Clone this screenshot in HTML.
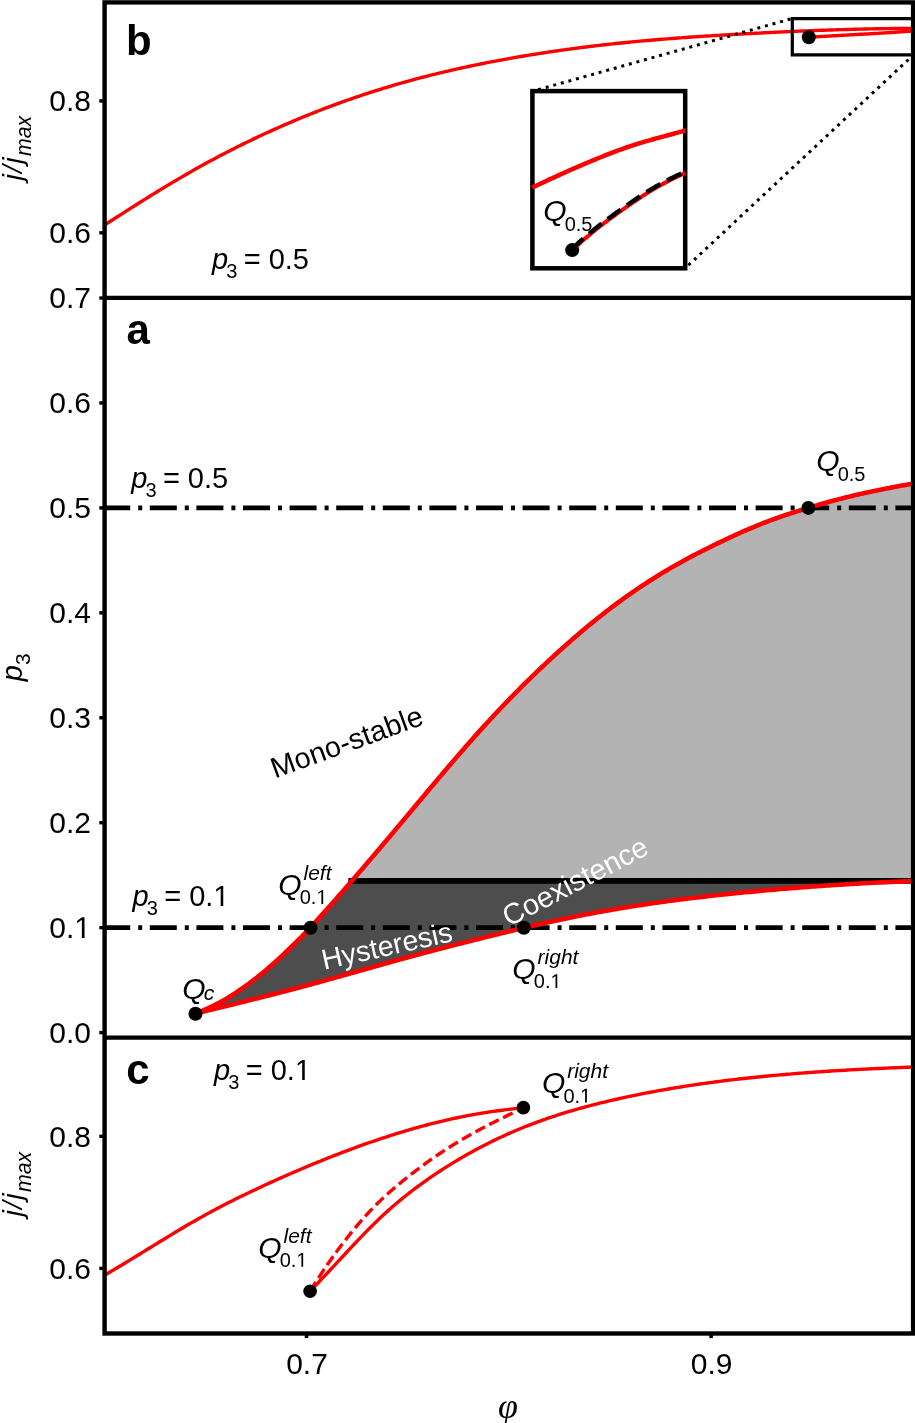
<!DOCTYPE html><html><head><meta charset="utf-8"><style>html,body{margin:0;padding:0;background:#fff;width:915px;height:1423px;overflow:hidden;position:relative}</style></head><body><svg width="915" height="1423" viewBox="0 0 915 1423" style="position:absolute;left:0;top:0;will-change:transform">
<defs><path id="one" d="M515,0 L515,1237 L197,1010 L197,1180 L530,1409 L696,1409 L696,0 Z"/></defs>
<rect x="0" y="0" width="915" height="1423" fill="#fff"/>
<polygon points="351.85,880.9 351.87,880.87 353.67,878.8 355.47,876.72 357.26,874.64 359.06,872.56 360.86,870.47 362.66,868.38 364.46,866.29 366.26,864.19 368.06,862.09 369.85,859.99 371.65,857.88 373.45,855.77 375.25,853.66 377.05,851.54 378.85,849.43 380.65,847.3 382.44,845.18 384.24,843.05 386.04,840.92 387.84,838.79 389.64,836.65 391.44,834.51 393.23,832.37 395.03,830.23 396.83,828.09 398.63,825.94 400.43,823.8 402.23,821.65 404.03,819.5 405.82,817.35 407.62,815.2 409.42,813.05 411.22,810.9 413.02,808.75 414.82,806.6 416.62,804.46 418.41,802.31 420.21,800.16 422.01,798.01 423.81,795.87 425.61,793.72 427.41,791.58 429.2,789.44 431,787.3 432.8,785.16 434.6,783.03 436.4,780.9 438.2,778.77 440,776.64 441.79,774.52 443.59,772.4 445.39,770.29 447.19,768.18 448.99,766.07 450.79,763.97 452.58,761.87 454.38,759.78 456.18,757.69 457.98,755.61 459.78,753.53 461.58,751.46 463.38,749.39 465.17,747.34 466.97,745.28 468.77,743.24 470.57,741.2 472.37,739.17 474.17,737.15 475.97,735.13 477.76,733.12 479.56,731.12 481.36,729.13 483.16,727.15 484.96,725.17 486.76,723.21 488.55,721.25 490.35,719.3 492.15,717.36 493.95,715.43 495.75,713.51 497.55,711.59 499.35,709.69 501.14,707.79 502.94,705.9 504.74,704.02 506.54,702.15 508.34,700.28 510.14,698.43 511.94,696.58 513.73,694.74 515.53,692.92 517.33,691.09 519.13,689.28 520.93,687.48 522.73,685.69 524.52,683.9 526.32,682.12 528.12,680.35 529.92,678.59 531.72,676.84 533.52,675.1 535.32,673.37 537.11,671.64 538.91,669.92 540.71,668.21 542.51,666.51 544.31,664.81 546.11,663.13 547.91,661.45 549.7,659.78 551.5,658.12 553.3,656.47 555.1,654.82 556.9,653.18 558.7,651.55 560.49,649.93 562.29,648.31 564.09,646.71 565.89,645.11 567.69,643.52 569.49,641.93 571.29,640.36 573.08,638.79 574.88,637.24 576.68,635.69 578.48,634.15 580.28,632.61 582.08,631.09 583.88,629.58 585.67,628.07 587.47,626.58 589.27,625.09 591.07,623.61 592.87,622.14 594.67,620.69 596.46,619.24 598.26,617.8 600.06,616.37 601.86,614.95 603.66,613.54 605.46,612.15 607.26,610.76 609.05,609.38 610.85,608.01 612.65,606.65 614.45,605.3 616.25,603.96 618.05,602.64 619.85,601.32 621.64,600.01 623.44,598.71 625.24,597.42 627.04,596.14 628.84,594.87 630.64,593.61 632.43,592.36 634.23,591.12 636.03,589.89 637.83,588.67 639.63,587.45 641.43,586.25 643.23,585.06 645.02,583.88 646.82,582.71 648.62,581.54 650.42,580.39 652.22,579.24 654.02,578.11 655.82,576.98 657.61,575.87 659.41,574.76 661.21,573.66 663.01,572.57 664.81,571.49 666.61,570.42 668.4,569.36 670.2,568.31 672,567.27 673.8,566.23 675.6,565.21 677.4,564.19 679.2,563.18 680.99,562.18 682.79,561.19 684.59,560.21 686.39,559.23 688.19,558.26 689.99,557.31 691.78,556.35 693.58,555.41 695.38,554.47 697.18,553.54 698.98,552.62 700.78,551.7 702.58,550.79 704.37,549.88 706.17,548.98 707.97,548.08 709.77,547.19 711.57,546.31 713.37,545.43 715.17,544.55 716.96,543.68 718.76,542.81 720.56,541.94 722.36,541.08 724.16,540.23 725.96,539.37 727.75,538.53 729.55,537.68 731.35,536.84 733.15,536.01 734.95,535.18 736.75,534.36 738.55,533.55 740.34,532.74 742.14,531.93 743.94,531.14 745.74,530.35 747.54,529.57 749.34,528.8 751.14,528.03 752.93,527.27 754.73,526.53 756.53,525.79 758.33,525.06 760.13,524.34 761.93,523.62 763.72,522.92 765.52,522.23 767.32,521.55 769.12,520.87 770.92,520.21 772.72,519.55 774.52,518.9 776.31,518.25 778.11,517.62 779.91,516.99 781.71,516.37 783.51,515.76 785.31,515.15 787.11,514.55 788.9,513.96 790.7,513.37 792.5,512.79 794.3,512.21 796.1,511.64 797.9,511.07 799.69,510.51 801.49,509.95 803.29,509.4 805.09,508.85 806.89,508.3 808.69,507.76 810.49,507.22 812.28,506.69 814.08,506.16 815.88,505.63 817.68,505.1 819.48,504.58 821.28,504.07 823.08,503.56 824.87,503.05 826.67,502.54 828.47,502.05 830.27,501.55 832.07,501.06 833.87,500.57 835.66,500.09 837.46,499.62 839.26,499.14 841.06,498.68 842.86,498.22 844.66,497.76 846.46,497.31 848.25,496.86 850.05,496.42 851.85,495.98 853.65,495.55 855.45,495.13 857.25,494.71 859.05,494.29 860.84,493.88 862.64,493.48 864.44,493.08 866.24,492.68 868.04,492.29 869.84,491.9 871.63,491.52 873.43,491.14 875.23,490.76 877.03,490.39 878.83,490.02 880.63,489.66 882.43,489.3 884.22,488.94 886.02,488.59 887.82,488.23 889.62,487.89 891.42,487.54 893.22,487.2 895.02,486.86 896.81,486.53 898.61,486.2 900.41,485.86 902.21,485.54 904.01,485.21 905.81,484.89 907.6,484.56 909.4,484.24 911.2,483.92 913,483.6 913.1,483.6 913.1,880.9" fill="#b3b3b3"/>
<polygon points="195.4,1013.52 197.2,1012.79 199,1012.06 200.8,1011.33 202.59,1010.58 204.39,1009.82 206.19,1009.04 207.99,1008.24 209.79,1007.42 211.59,1006.58 213.38,1005.72 215.18,1004.83 216.98,1003.92 218.78,1002.99 220.58,1002.03 222.38,1001.04 224.18,1000.03 225.97,998.99 227.77,997.92 229.57,996.83 231.37,995.71 233.17,994.56 234.97,993.39 236.77,992.19 238.56,990.97 240.36,989.72 242.16,988.46 243.96,987.18 245.76,985.88 247.56,984.57 249.35,983.23 251.15,981.89 252.95,980.52 254.75,979.14 256.55,977.73 258.35,976.31 260.15,974.87 261.94,973.41 263.74,971.92 265.54,970.42 267.34,968.9 269.14,967.36 270.94,965.8 272.74,964.23 274.53,962.63 276.33,961.02 278.13,959.38 279.93,957.74 281.73,956.07 283.53,954.39 285.32,952.69 287.12,950.98 288.92,949.26 290.72,947.52 292.52,945.77 294.32,944.01 296.12,942.23 297.91,940.44 299.71,938.63 301.51,936.81 303.31,934.97 305.11,933.12 306.91,931.24 308.71,929.35 310.5,927.44 312.3,925.52 314.1,923.57 315.9,921.61 317.7,919.64 319.5,917.65 321.29,915.65 323.09,913.64 324.89,911.62 326.69,909.6 328.49,907.57 330.29,905.53 332.09,903.49 333.88,901.45 335.68,899.41 337.48,897.36 339.28,895.31 341.08,893.26 342.88,891.2 344.68,889.14 346.47,887.08 348.27,885.01 350.07,882.94 351.85,880.9 913.1,880.9 913,881 910.6,881.09 908.2,881.19 905.8,881.29 903.4,881.39 901,881.49 898.6,881.6 896.2,881.7 893.8,881.8 891.4,881.91 889,882.01 886.6,882.12 884.2,882.23 881.8,882.34 879.4,882.46 877,882.57 874.6,882.69 872.2,882.82 869.8,882.94 867.4,883.06 865,883.19 862.6,883.32 860.2,883.46 857.8,883.59 855.4,883.73 853,883.87 850.6,884.01 848.2,884.15 845.8,884.3 843.4,884.45 841,884.6 838.6,884.75 836.2,884.9 833.8,885.06 831.4,885.22 829,885.38 826.6,885.54 824.2,885.71 821.8,885.87 819.4,886.04 817,886.21 814.6,886.39 812.2,886.56 809.8,886.74 807.4,886.92 805,887.1 802.6,887.28 800.2,887.47 797.8,887.66 795.4,887.85 793,888.04 790.6,888.23 788.2,888.43 785.8,888.62 783.4,888.82 781,889.02 778.6,889.23 776.2,889.43 773.8,889.64 771.4,889.85 769,890.06 766.6,890.28 764.2,890.49 761.8,890.71 759.4,890.93 757,891.15 754.6,891.38 752.2,891.61 749.8,891.84 747.4,892.07 745,892.3 742.6,892.54 740.2,892.77 737.8,893.01 735.4,893.26 733,893.5 730.6,893.75 728.2,894 725.8,894.25 723.4,894.5 721,894.76 718.6,895.02 716.2,895.28 713.8,895.55 711.4,895.81 709,896.08 706.6,896.35 704.2,896.63 701.8,896.9 699.4,897.18 697,897.46 694.6,897.75 692.2,898.04 689.8,898.33 687.4,898.62 685,898.92 682.6,899.22 680.2,899.52 677.8,899.83 675.4,900.14 673,900.45 670.6,900.77 668.2,901.09 665.8,901.41 663.4,901.74 661,902.07 658.6,902.41 656.2,902.75 653.8,903.09 651.4,903.43 649,903.78 646.6,904.14 644.2,904.5 641.8,904.86 639.4,905.22 637,905.59 634.6,905.97 632.2,906.35 629.8,906.73 627.4,907.12 625,907.51 622.6,907.9 620.2,908.3 617.8,908.71 615.4,909.12 613,909.53 610.6,909.94 608.2,910.37 605.8,910.79 603.4,911.22 601,911.65 598.6,912.09 596.2,912.53 593.8,912.98 591.4,913.43 589,913.89 586.6,914.35 584.2,914.81 581.8,915.28 579.4,915.75 577,916.23 574.6,916.71 572.2,917.2 569.8,917.69 567.4,918.18 565,918.68 562.6,919.19 560.2,919.7 557.8,920.21 555.4,920.73 553,921.25 550.6,921.77 548.2,922.3 545.8,922.84 543.4,923.37 541,923.92 538.6,924.46 536.2,925.01 533.8,925.56 531.4,926.11 529,926.67 526.6,927.23 524.2,927.8 521.8,928.36 519.4,928.93 517,929.51 514.6,930.08 512.2,930.66 509.8,931.24 507.4,931.82 505,932.4 502.6,932.99 500.2,933.57 497.8,934.16 495.4,934.75 493,935.35 490.6,935.94 488.2,936.53 485.8,937.13 483.4,937.73 481,938.33 478.6,938.93 476.2,939.53 473.8,940.13 471.4,940.73 469,941.33 466.6,941.94 464.2,942.55 461.8,943.15 459.4,943.76 457,944.37 454.6,944.99 452.2,945.6 449.8,946.21 447.4,946.83 445,947.45 442.6,948.07 440.2,948.7 437.8,949.32 435.4,949.95 433,950.58 430.6,951.21 428.2,951.84 425.8,952.48 423.4,953.12 421,953.76 418.6,954.41 416.2,955.05 413.8,955.7 411.4,956.35 409,957.01 406.6,957.66 404.2,958.32 401.8,958.98 399.4,959.64 397,960.31 394.6,960.97 392.2,961.64 389.8,962.31 387.4,962.98 385,963.65 382.6,964.32 380.2,964.99 377.8,965.67 375.4,966.34 373,967.02 370.6,967.69 368.2,968.37 365.8,969.04 363.4,969.72 361,970.39 358.6,971.07 356.2,971.75 353.8,972.42 351.4,973.1 349,973.77 346.6,974.45 344.2,975.12 341.8,975.79 339.4,976.47 337,977.14 334.6,977.81 332.2,978.48 329.8,979.14 327.4,979.81 325,980.47 322.6,981.14 320.2,981.8 317.8,982.46 315.4,983.11 313,983.77 310.6,984.42 308.2,985.08 305.8,985.73 303.4,986.37 301,987.02 298.6,987.66 296.2,988.3 293.8,988.93 291.4,989.57 289,990.2 286.6,990.83 284.2,991.45 281.8,992.07 279.4,992.69 277,993.31 274.6,993.93 272.2,994.54 269.8,995.15 267.4,995.76 265,996.36 262.6,996.97 260.2,997.57 257.8,998.18 255.4,998.78 253,999.38 250.6,999.98 248.2,1000.57 245.8,1001.17 243.4,1001.77 241,1002.36 238.6,1002.96 236.2,1003.55 233.8,1004.15 231.4,1004.74 229,1005.33 226.6,1005.92 224.2,1006.51 221.8,1007.1 219.4,1007.68 217,1008.27 214.6,1008.85 212.2,1009.44 209.8,1010.02 207.4,1010.6 205,1011.18 202.6,1011.76 200.2,1012.34 197.8,1012.92 195.4,1013.5" fill="#4d4d4d"/>
<line x1="348.35" y1="880.9" x2="913.1" y2="880.9" stroke="#000" stroke-width="5.8"/>
<line x1="104.6" y1="507.9" x2="913.1" y2="507.9" stroke="#000" stroke-width="4.6" stroke-dasharray="27 8 4 7.6" stroke-dashoffset="1.4"/>
<line x1="104.6" y1="927.66" x2="913.1" y2="927.66" stroke="#000" stroke-width="4.6" stroke-dasharray="27 8 4 7.6" stroke-dashoffset="1.4"/>
<path d="M195.4,1013.52 L197.2,1012.79 L199,1012.06 L200.8,1011.33 L202.59,1010.58 L204.39,1009.82 L206.19,1009.04 L207.99,1008.24 L209.79,1007.42 L211.59,1006.58 L213.38,1005.72 L215.18,1004.83 L216.98,1003.92 L218.78,1002.99 L220.58,1002.03 L222.38,1001.04 L224.18,1000.03 L225.97,998.99 L227.77,997.92 L229.57,996.83 L231.37,995.71 L233.17,994.56 L234.97,993.39 L236.77,992.19 L238.56,990.97 L240.36,989.72 L242.16,988.46 L243.96,987.18 L245.76,985.88 L247.56,984.57 L249.35,983.23 L251.15,981.89 L252.95,980.52 L254.75,979.14 L256.55,977.73 L258.35,976.31 L260.15,974.87 L261.94,973.41 L263.74,971.92 L265.54,970.42 L267.34,968.9 L269.14,967.36 L270.94,965.8 L272.74,964.23 L274.53,962.63 L276.33,961.02 L278.13,959.38 L279.93,957.74 L281.73,956.07 L283.53,954.39 L285.32,952.69 L287.12,950.98 L288.92,949.26 L290.72,947.52 L292.52,945.77 L294.32,944.01 L296.12,942.23 L297.91,940.44 L299.71,938.63 L301.51,936.81 L303.31,934.97 L305.11,933.12 L306.91,931.24 L308.71,929.35 L310.5,927.44 L312.3,925.52 L314.1,923.57 L315.9,921.61 L317.7,919.64 L319.5,917.65 L321.29,915.65 L323.09,913.64 L324.89,911.62 L326.69,909.6 L328.49,907.57 L330.29,905.53 L332.09,903.49 L333.88,901.45 L335.68,899.41 L337.48,897.36 L339.28,895.31 L341.08,893.26 L342.88,891.2 L344.68,889.14 L346.47,887.08 L348.27,885.01 L350.07,882.94 L351.87,880.87 L353.67,878.8 L355.47,876.72 L357.26,874.64 L359.06,872.56 L360.86,870.47 L362.66,868.38 L364.46,866.29 L366.26,864.19 L368.06,862.09 L369.85,859.99 L371.65,857.88 L373.45,855.77 L375.25,853.66 L377.05,851.54 L378.85,849.43 L380.65,847.3 L382.44,845.18 L384.24,843.05 L386.04,840.92 L387.84,838.79 L389.64,836.65 L391.44,834.51 L393.23,832.37 L395.03,830.23 L396.83,828.09 L398.63,825.94 L400.43,823.8 L402.23,821.65 L404.03,819.5 L405.82,817.35 L407.62,815.2 L409.42,813.05 L411.22,810.9 L413.02,808.75 L414.82,806.6 L416.62,804.46 L418.41,802.31 L420.21,800.16 L422.01,798.01 L423.81,795.87 L425.61,793.72 L427.41,791.58 L429.2,789.44 L431,787.3 L432.8,785.16 L434.6,783.03 L436.4,780.9 L438.2,778.77 L440,776.64 L441.79,774.52 L443.59,772.4 L445.39,770.29 L447.19,768.18 L448.99,766.07 L450.79,763.97 L452.58,761.87 L454.38,759.78 L456.18,757.69 L457.98,755.61 L459.78,753.53 L461.58,751.46 L463.38,749.39 L465.17,747.34 L466.97,745.28 L468.77,743.24 L470.57,741.2 L472.37,739.17 L474.17,737.15 L475.97,735.13 L477.76,733.12 L479.56,731.12 L481.36,729.13 L483.16,727.15 L484.96,725.17 L486.76,723.21 L488.55,721.25 L490.35,719.3 L492.15,717.36 L493.95,715.43 L495.75,713.51 L497.55,711.59 L499.35,709.69 L501.14,707.79 L502.94,705.9 L504.74,704.02 L506.54,702.15 L508.34,700.28 L510.14,698.43 L511.94,696.58 L513.73,694.74 L515.53,692.92 L517.33,691.09 L519.13,689.28 L520.93,687.48 L522.73,685.69 L524.52,683.9 L526.32,682.12 L528.12,680.35 L529.92,678.59 L531.72,676.84 L533.52,675.1 L535.32,673.37 L537.11,671.64 L538.91,669.92 L540.71,668.21 L542.51,666.51 L544.31,664.81 L546.11,663.13 L547.91,661.45 L549.7,659.78 L551.5,658.12 L553.3,656.47 L555.1,654.82 L556.9,653.18 L558.7,651.55 L560.49,649.93 L562.29,648.31 L564.09,646.71 L565.89,645.11 L567.69,643.52 L569.49,641.93 L571.29,640.36 L573.08,638.79 L574.88,637.24 L576.68,635.69 L578.48,634.15 L580.28,632.61 L582.08,631.09 L583.88,629.58 L585.67,628.07 L587.47,626.58 L589.27,625.09 L591.07,623.61 L592.87,622.14 L594.67,620.69 L596.46,619.24 L598.26,617.8 L600.06,616.37 L601.86,614.95 L603.66,613.54 L605.46,612.15 L607.26,610.76 L609.05,609.38 L610.85,608.01 L612.65,606.65 L614.45,605.3 L616.25,603.96 L618.05,602.64 L619.85,601.32 L621.64,600.01 L623.44,598.71 L625.24,597.42 L627.04,596.14 L628.84,594.87 L630.64,593.61 L632.43,592.36 L634.23,591.12 L636.03,589.89 L637.83,588.67 L639.63,587.45 L641.43,586.25 L643.23,585.06 L645.02,583.88 L646.82,582.71 L648.62,581.54 L650.42,580.39 L652.22,579.24 L654.02,578.11 L655.82,576.98 L657.61,575.87 L659.41,574.76 L661.21,573.66 L663.01,572.57 L664.81,571.49 L666.61,570.42 L668.4,569.36 L670.2,568.31 L672,567.27 L673.8,566.23 L675.6,565.21 L677.4,564.19 L679.2,563.18 L680.99,562.18 L682.79,561.19 L684.59,560.21 L686.39,559.23 L688.19,558.26 L689.99,557.31 L691.78,556.35 L693.58,555.41 L695.38,554.47 L697.18,553.54 L698.98,552.62 L700.78,551.7 L702.58,550.79 L704.37,549.88 L706.17,548.98 L707.97,548.08 L709.77,547.19 L711.57,546.31 L713.37,545.43 L715.17,544.55 L716.96,543.68 L718.76,542.81 L720.56,541.94 L722.36,541.08 L724.16,540.23 L725.96,539.37 L727.75,538.53 L729.55,537.68 L731.35,536.84 L733.15,536.01 L734.95,535.18 L736.75,534.36 L738.55,533.55 L740.34,532.74 L742.14,531.93 L743.94,531.14 L745.74,530.35 L747.54,529.57 L749.34,528.8 L751.14,528.03 L752.93,527.27 L754.73,526.53 L756.53,525.79 L758.33,525.06 L760.13,524.34 L761.93,523.62 L763.72,522.92 L765.52,522.23 L767.32,521.55 L769.12,520.87 L770.92,520.21 L772.72,519.55 L774.52,518.9 L776.31,518.25 L778.11,517.62 L779.91,516.99 L781.71,516.37 L783.51,515.76 L785.31,515.15 L787.11,514.55 L788.9,513.96 L790.7,513.37 L792.5,512.79 L794.3,512.21 L796.1,511.64 L797.9,511.07 L799.69,510.51 L801.49,509.95 L803.29,509.4 L805.09,508.85 L806.89,508.3 L808.69,507.76 L810.49,507.22 L812.28,506.69 L814.08,506.16 L815.88,505.63 L817.68,505.1 L819.48,504.58 L821.28,504.07 L823.08,503.56 L824.87,503.05 L826.67,502.54 L828.47,502.05 L830.27,501.55 L832.07,501.06 L833.87,500.57 L835.66,500.09 L837.46,499.62 L839.26,499.14 L841.06,498.68 L842.86,498.22 L844.66,497.76 L846.46,497.31 L848.25,496.86 L850.05,496.42 L851.85,495.98 L853.65,495.55 L855.45,495.13 L857.25,494.71 L859.05,494.29 L860.84,493.88 L862.64,493.48 L864.44,493.08 L866.24,492.68 L868.04,492.29 L869.84,491.9 L871.63,491.52 L873.43,491.14 L875.23,490.76 L877.03,490.39 L878.83,490.02 L880.63,489.66 L882.43,489.3 L884.22,488.94 L886.02,488.59 L887.82,488.23 L889.62,487.89 L891.42,487.54 L893.22,487.2 L895.02,486.86 L896.81,486.53 L898.61,486.2 L900.41,485.86 L902.21,485.54 L904.01,485.21 L905.81,484.89 L907.6,484.56 L909.4,484.24 L911.2,483.92 L913,483.6" fill="none" stroke="#ff0000" stroke-width="4.6" stroke-linejoin="round"/>
<path d="M195.4,1013.5 L197.8,1012.92 L200.2,1012.34 L202.6,1011.76 L205,1011.18 L207.4,1010.6 L209.8,1010.02 L212.2,1009.44 L214.6,1008.85 L217,1008.27 L219.4,1007.68 L221.8,1007.1 L224.2,1006.51 L226.6,1005.92 L229,1005.33 L231.4,1004.74 L233.8,1004.15 L236.2,1003.55 L238.6,1002.96 L241,1002.36 L243.4,1001.77 L245.8,1001.17 L248.2,1000.57 L250.6,999.98 L253,999.38 L255.4,998.78 L257.8,998.18 L260.2,997.57 L262.6,996.97 L265,996.36 L267.4,995.76 L269.8,995.15 L272.2,994.54 L274.6,993.93 L277,993.31 L279.4,992.69 L281.8,992.07 L284.2,991.45 L286.6,990.83 L289,990.2 L291.4,989.57 L293.8,988.93 L296.2,988.3 L298.6,987.66 L301,987.02 L303.4,986.37 L305.8,985.73 L308.2,985.08 L310.6,984.42 L313,983.77 L315.4,983.11 L317.8,982.46 L320.2,981.8 L322.6,981.14 L325,980.47 L327.4,979.81 L329.8,979.14 L332.2,978.48 L334.6,977.81 L337,977.14 L339.4,976.47 L341.8,975.79 L344.2,975.12 L346.6,974.45 L349,973.77 L351.4,973.1 L353.8,972.42 L356.2,971.75 L358.6,971.07 L361,970.39 L363.4,969.72 L365.8,969.04 L368.2,968.37 L370.6,967.69 L373,967.02 L375.4,966.34 L377.8,965.67 L380.2,964.99 L382.6,964.32 L385,963.65 L387.4,962.98 L389.8,962.31 L392.2,961.64 L394.6,960.97 L397,960.31 L399.4,959.64 L401.8,958.98 L404.2,958.32 L406.6,957.66 L409,957.01 L411.4,956.35 L413.8,955.7 L416.2,955.05 L418.6,954.41 L421,953.76 L423.4,953.12 L425.8,952.48 L428.2,951.84 L430.6,951.21 L433,950.58 L435.4,949.95 L437.8,949.32 L440.2,948.7 L442.6,948.07 L445,947.45 L447.4,946.83 L449.8,946.21 L452.2,945.6 L454.6,944.99 L457,944.37 L459.4,943.76 L461.8,943.15 L464.2,942.55 L466.6,941.94 L469,941.33 L471.4,940.73 L473.8,940.13 L476.2,939.53 L478.6,938.93 L481,938.33 L483.4,937.73 L485.8,937.13 L488.2,936.53 L490.6,935.94 L493,935.35 L495.4,934.75 L497.8,934.16 L500.2,933.57 L502.6,932.99 L505,932.4 L507.4,931.82 L509.8,931.24 L512.2,930.66 L514.6,930.08 L517,929.51 L519.4,928.93 L521.8,928.36 L524.2,927.8 L526.6,927.23 L529,926.67 L531.4,926.11 L533.8,925.56 L536.2,925.01 L538.6,924.46 L541,923.92 L543.4,923.37 L545.8,922.84 L548.2,922.3 L550.6,921.77 L553,921.25 L555.4,920.73 L557.8,920.21 L560.2,919.7 L562.6,919.19 L565,918.68 L567.4,918.18 L569.8,917.69 L572.2,917.2 L574.6,916.71 L577,916.23 L579.4,915.75 L581.8,915.28 L584.2,914.81 L586.6,914.35 L589,913.89 L591.4,913.43 L593.8,912.98 L596.2,912.53 L598.6,912.09 L601,911.65 L603.4,911.22 L605.8,910.79 L608.2,910.37 L610.6,909.94 L613,909.53 L615.4,909.12 L617.8,908.71 L620.2,908.3 L622.6,907.9 L625,907.51 L627.4,907.12 L629.8,906.73 L632.2,906.35 L634.6,905.97 L637,905.59 L639.4,905.22 L641.8,904.86 L644.2,904.5 L646.6,904.14 L649,903.78 L651.4,903.43 L653.8,903.09 L656.2,902.75 L658.6,902.41 L661,902.07 L663.4,901.74 L665.8,901.41 L668.2,901.09 L670.6,900.77 L673,900.45 L675.4,900.14 L677.8,899.83 L680.2,899.52 L682.6,899.22 L685,898.92 L687.4,898.62 L689.8,898.33 L692.2,898.04 L694.6,897.75 L697,897.46 L699.4,897.18 L701.8,896.9 L704.2,896.63 L706.6,896.35 L709,896.08 L711.4,895.81 L713.8,895.55 L716.2,895.28 L718.6,895.02 L721,894.76 L723.4,894.5 L725.8,894.25 L728.2,894 L730.6,893.75 L733,893.5 L735.4,893.26 L737.8,893.01 L740.2,892.77 L742.6,892.54 L745,892.3 L747.4,892.07 L749.8,891.84 L752.2,891.61 L754.6,891.38 L757,891.15 L759.4,890.93 L761.8,890.71 L764.2,890.49 L766.6,890.28 L769,890.06 L771.4,889.85 L773.8,889.64 L776.2,889.43 L778.6,889.23 L781,889.02 L783.4,888.82 L785.8,888.62 L788.2,888.43 L790.6,888.23 L793,888.04 L795.4,887.85 L797.8,887.66 L800.2,887.47 L802.6,887.28 L805,887.1 L807.4,886.92 L809.8,886.74 L812.2,886.56 L814.6,886.39 L817,886.21 L819.4,886.04 L821.8,885.87 L824.2,885.71 L826.6,885.54 L829,885.38 L831.4,885.22 L833.8,885.06 L836.2,884.9 L838.6,884.75 L841,884.6 L843.4,884.45 L845.8,884.3 L848.2,884.15 L850.6,884.01 L853,883.87 L855.4,883.73 L857.8,883.59 L860.2,883.46 L862.6,883.32 L865,883.19 L867.4,883.06 L869.8,882.94 L872.2,882.82 L874.6,882.69 L877,882.57 L879.4,882.46 L881.8,882.34 L884.2,882.23 L886.6,882.12 L889,882.01 L891.4,881.91 L893.8,881.8 L896.2,881.7 L898.6,881.6 L901,881.49 L903.4,881.39 L905.8,881.29 L908.2,881.19 L910.6,881.09 L913,881" fill="none" stroke="#ff0000" stroke-width="4.6" stroke-linejoin="round"/>
<path d="M104.6,225 L107.3,223.26 L110.01,221.52 L112.71,219.78 L115.41,218.04 L118.12,216.3 L120.82,214.57 L123.53,212.84 L126.23,211.11 L128.93,209.39 L131.64,207.67 L134.34,205.96 L137.04,204.25 L139.75,202.55 L142.45,200.86 L145.16,199.17 L147.86,197.48 L150.56,195.81 L153.27,194.14 L155.97,192.47 L158.67,190.82 L161.38,189.17 L164.08,187.53 L166.78,185.9 L169.49,184.27 L172.19,182.66 L174.9,181.05 L177.6,179.46 L180.3,177.87 L183.01,176.29 L185.71,174.72 L188.41,173.17 L191.12,171.62 L193.82,170.08 L196.53,168.56 L199.23,167.05 L201.93,165.54 L204.64,164.05 L207.34,162.57 L210.04,161.11 L212.75,159.65 L215.45,158.21 L218.15,156.77 L220.86,155.35 L223.56,153.94 L226.27,152.54 L228.97,151.15 L231.67,149.77 L234.38,148.4 L237.08,147.05 L239.78,145.7 L242.49,144.37 L245.19,143.04 L247.89,141.73 L250.6,140.42 L253.3,139.13 L256.01,137.85 L258.71,136.57 L261.41,135.31 L264.12,134.06 L266.82,132.81 L269.52,131.58 L272.23,130.36 L274.93,129.14 L277.64,127.94 L280.34,126.75 L283.04,125.56 L285.75,124.39 L288.45,123.22 L291.15,122.07 L293.86,120.92 L296.56,119.79 L299.26,118.66 L301.97,117.54 L304.67,116.44 L307.38,115.34 L310.08,114.25 L312.78,113.17 L315.49,112.1 L318.19,111.04 L320.89,109.99 L323.6,108.95 L326.3,107.92 L329.01,106.9 L331.71,105.89 L334.41,104.89 L337.12,103.89 L339.82,102.91 L342.52,101.94 L345.23,100.97 L347.93,100.02 L350.63,99.07 L353.34,98.13 L356.04,97.21 L358.75,96.29 L361.45,95.38 L364.15,94.48 L366.86,93.59 L369.56,92.71 L372.26,91.84 L374.97,90.98 L377.67,90.13 L380.38,89.29 L383.08,88.45 L385.78,87.63 L388.49,86.82 L391.19,86.01 L393.89,85.21 L396.6,84.43 L399.3,83.65 L402,82.88 L404.71,82.11 L407.41,81.36 L410.12,80.62 L412.82,79.88 L415.52,79.15 L418.23,78.43 L420.93,77.72 L423.63,77.02 L426.34,76.33 L429.04,75.64 L431.75,74.96 L434.45,74.29 L437.15,73.63 L439.86,72.97 L442.56,72.32 L445.26,71.68 L447.97,71.05 L450.67,70.42 L453.37,69.8 L456.08,69.19 L458.78,68.59 L461.49,67.99 L464.19,67.4 L466.89,66.82 L469.6,66.24 L472.3,65.67 L475,65.11 L477.71,64.55 L480.41,64 L483.12,63.46 L485.82,62.92 L488.52,62.39 L491.23,61.86 L493.93,61.34 L496.63,60.83 L499.34,60.32 L502.04,59.82 L504.74,59.32 L507.45,58.83 L510.15,58.35 L512.86,57.87 L515.56,57.4 L518.26,56.93 L520.97,56.47 L523.67,56.01 L526.37,55.56 L529.08,55.12 L531.78,54.68 L534.48,54.24 L537.19,53.81 L539.89,53.39 L542.6,52.97 L545.3,52.56 L548,52.15 L550.71,51.75 L553.41,51.35 L556.11,50.96 L558.82,50.57 L561.52,50.19 L564.23,49.81 L566.93,49.44 L569.63,49.07 L572.34,48.71 L575.04,48.35 L577.74,48 L580.45,47.65 L583.15,47.31 L585.85,46.97 L588.56,46.64 L591.26,46.31 L593.97,45.99 L596.67,45.67 L599.37,45.35 L602.08,45.04 L604.78,44.74 L607.48,44.44 L610.19,44.14 L612.89,43.85 L615.6,43.56 L618.3,43.28 L621,43 L623.71,42.72 L626.41,42.45 L629.11,42.19 L631.82,41.93 L634.52,41.67 L637.22,41.41 L639.93,41.16 L642.63,40.92 L645.34,40.67 L648.04,40.44 L650.74,40.2 L653.45,39.97 L656.15,39.74 L658.85,39.52 L661.56,39.3 L664.26,39.08 L666.97,38.86 L669.67,38.65 L672.37,38.44 L675.08,38.24 L677.78,38.04 L680.48,37.84 L683.19,37.64 L685.89,37.45 L688.59,37.26 L691.3,37.07 L694,36.89 L696.71,36.7 L699.41,36.52 L702.11,36.35 L704.82,36.17 L707.52,36 L710.22,35.83 L712.93,35.66 L715.63,35.5 L718.34,35.33 L721.04,35.17 L723.74,35.01 L726.45,34.85 L729.15,34.7 L731.85,34.54 L734.56,34.39 L737.26,34.24 L739.96,34.09 L742.67,33.94 L745.37,33.79 L748.08,33.65 L750.78,33.5 L753.48,33.36 L756.19,33.22 L758.89,33.08 L761.59,32.94 L764.3,32.8 L767,32.67 L769.71,32.54 L772.41,32.4 L775.11,32.27 L777.82,32.14 L780.52,32.01 L783.22,31.89 L785.93,31.76 L788.63,31.64 L791.33,31.52 L794.04,31.4 L796.74,31.28 L799.45,31.17 L802.15,31.05 L804.85,30.94 L807.56,30.83 L810.26,30.72 L812.96,30.62 L815.67,30.51 L818.37,30.41 L821.07,30.31 L823.78,30.21 L826.48,30.12 L829.19,30.02 L831.89,29.93 L834.59,29.84 L837.3,29.76 L840,29.67 L842.7,29.59 L845.41,29.51 L848.11,29.43 L850.82,29.36 L853.52,29.29 L856.22,29.22 L858.93,29.15 L861.63,29.08 L864.33,29.02 L867.04,28.96 L869.74,28.9 L872.44,28.85 L875.15,28.8 L877.85,28.75 L880.56,28.7 L883.26,28.66 L885.96,28.62 L888.67,28.58 L891.37,28.54 L894.07,28.51 L896.78,28.48 L899.48,28.45 L902.19,28.41 L904.89,28.39 L907.59,28.36 L910.3,28.33 L913,28.3" fill="none" stroke="#ff0000" stroke-width="3.4"/>
<path d="M808.8,37.2 L810.57,37.1 L812.33,37 L814.1,36.9 L815.86,36.8 L817.63,36.7 L819.4,36.6 L821.16,36.5 L822.93,36.4 L824.69,36.3 L826.46,36.2 L828.23,36.1 L829.99,36.01 L831.76,35.91 L833.53,35.81 L835.29,35.71 L837.06,35.61 L838.82,35.51 L840.59,35.41 L842.36,35.31 L844.12,35.21 L845.89,35.11 L847.65,35.01 L849.42,34.91 L851.19,34.81 L852.95,34.71 L854.72,34.62 L856.48,34.52 L858.25,34.42 L860.02,34.32 L861.78,34.23 L863.55,34.13 L865.32,34.03 L867.08,33.94 L868.85,33.84 L870.61,33.74 L872.38,33.64 L874.15,33.54 L875.91,33.44 L877.68,33.34 L879.44,33.23 L881.21,33.13 L882.98,33.02 L884.74,32.91 L886.51,32.8 L888.27,32.69 L890.04,32.57 L891.81,32.46 L893.57,32.34 L895.34,32.23 L897.11,32.11 L898.87,31.99 L900.64,31.87 L902.4,31.75 L904.17,31.63 L905.94,31.5 L907.7,31.38 L909.47,31.25 L911.23,31.13 L913,31" fill="none" stroke="#ff0000" stroke-width="3.4"/>
<line x1="790.5" y1="19" x2="533" y2="91.1" stroke="#000" stroke-width="3" stroke-dasharray="3 4.85"/>
<line x1="908.5" y1="59.5" x2="686.5" y2="267" stroke="#000" stroke-width="3" stroke-dasharray="3 4.85"/>
<path d="M913.1,18.7 H792.3 V54.9 H913.1" fill="none" stroke="#000" stroke-width="3.2"/>
<rect x="532.4" y="91.1" width="152.8" height="177.2" fill="#fff" stroke="#000" stroke-width="4.5"/>
<path d="M532.2,187.5 L534.14,186.6 L536.08,185.69 L538.01,184.79 L539.95,183.89 L541.89,182.99 L543.83,182.09 L545.77,181.2 L547.7,180.3 L549.64,179.41 L551.58,178.52 L553.52,177.63 L555.46,176.74 L557.39,175.86 L559.33,174.98 L561.27,174.1 L563.21,173.23 L565.15,172.36 L567.08,171.5 L569.02,170.64 L570.96,169.78 L572.9,168.93 L574.84,168.08 L576.77,167.24 L578.71,166.4 L580.65,165.57 L582.59,164.74 L584.53,163.92 L586.46,163.1 L588.4,162.28 L590.34,161.47 L592.28,160.67 L594.22,159.87 L596.15,159.07 L598.09,158.28 L600.03,157.5 L601.97,156.72 L603.91,155.94 L605.84,155.18 L607.78,154.41 L609.72,153.66 L611.66,152.91 L613.59,152.17 L615.53,151.44 L617.47,150.72 L619.41,150.01 L621.35,149.3 L623.28,148.61 L625.22,147.92 L627.16,147.25 L629.1,146.59 L631.04,145.94 L632.97,145.3 L634.91,144.67 L636.85,144.06 L638.79,143.46 L640.73,142.87 L642.66,142.29 L644.6,141.71 L646.54,141.15 L648.48,140.6 L650.42,140.05 L652.35,139.51 L654.29,138.97 L656.23,138.44 L658.17,137.91 L660.11,137.39 L662.04,136.86 L663.98,136.34 L665.92,135.82 L667.86,135.29 L669.8,134.77 L671.73,134.24 L673.67,133.71 L675.61,133.18 L677.55,132.64 L679.49,132.11 L681.42,131.57 L683.36,131.04 L685.3,130.5" fill="none" stroke="#ff0000" stroke-width="4.5"/>
<path d="M572.2,250.06 L573.63,248.77 L575.06,247.48 L576.49,246.2 L577.93,244.92 L579.36,243.64 L580.79,242.37 L582.22,241.11 L583.65,239.85 L585.08,238.61 L586.52,237.37 L587.95,236.15 L589.38,234.93 L590.81,233.73 L592.24,232.54 L593.67,231.36 L595.11,230.19 L596.54,229.04 L597.97,227.9 L599.4,226.77 L600.83,225.65 L602.26,224.55 L603.7,223.45 L605.13,222.37 L606.56,221.29 L607.99,220.23 L609.42,219.17 L610.85,218.12 L612.29,217.08 L613.72,216.04 L615.15,215.01 L616.58,213.98 L618.01,212.96 L619.44,211.94 L620.88,210.93 L622.31,209.92 L623.74,208.91 L625.17,207.91 L626.6,206.91 L628.03,205.91 L629.47,204.92 L630.9,203.93 L632.33,202.94 L633.76,201.96 L635.19,200.99 L636.62,200.02 L638.06,199.05 L639.49,198.09 L640.92,197.14 L642.35,196.2 L643.78,195.27 L645.21,194.35 L646.65,193.43 L648.08,192.53 L649.51,191.64 L650.94,190.75 L652.37,189.89 L653.8,189.03 L655.24,188.19 L656.67,187.35 L658.1,186.54 L659.53,185.73 L660.96,184.94 L662.39,184.15 L663.83,183.38 L665.26,182.62 L666.69,181.88 L668.12,181.14 L669.55,180.41 L670.98,179.7 L672.42,179 L673.85,178.3 L675.28,177.61 L676.71,176.94 L678.14,176.26 L679.57,175.6 L681.01,174.93 L682.44,174.27 L683.87,173.62 L685.3,172.96" fill="none" stroke="#ff0000" stroke-width="4"/>
<path d="M571.5,249.16 L572.93,247.87 L574.36,246.58 L575.79,245.3 L577.23,244.02 L578.66,242.74 L580.09,241.47 L581.52,240.21 L582.95,238.95 L584.38,237.71 L585.82,236.47 L587.25,235.25 L588.68,234.03 L590.11,232.83 L591.54,231.64 L592.97,230.46 L594.41,229.29 L595.84,228.14 L597.27,227 L598.7,225.87 L600.13,224.75 L601.56,223.65 L603,222.55 L604.43,221.47 L605.86,220.39 L607.29,219.33 L608.72,218.27 L610.15,217.22 L611.59,216.18 L613.02,215.14 L614.45,214.11 L615.88,213.08 L617.31,212.06 L618.74,211.04 L620.18,210.03 L621.61,209.02 L623.04,208.01 L624.47,207.01 L625.9,206.01 L627.33,205.01 L628.77,204.02 L630.2,203.03 L631.63,202.04 L633.06,201.06 L634.49,200.09 L635.92,199.12 L637.36,198.15 L638.79,197.19 L640.22,196.24 L641.65,195.3 L643.08,194.37 L644.51,193.45 L645.95,192.53 L647.38,191.63 L648.81,190.74 L650.24,189.85 L651.67,188.99 L653.1,188.13 L654.54,187.29 L655.97,186.45 L657.4,185.64 L658.83,184.83 L660.26,184.04 L661.69,183.25 L663.13,182.48 L664.56,181.72 L665.99,180.98 L667.42,180.24 L668.85,179.51 L670.28,178.8 L671.72,178.1 L673.15,177.4 L674.58,176.71 L676.01,176.04 L677.44,175.36 L678.87,174.7 L680.31,174.03 L681.74,173.37 L683.17,172.72 L684.6,172.06" fill="none" stroke="#000" stroke-width="4.4" stroke-dasharray="15.9 7.7"/>
<circle cx="572.2" cy="250.1" r="7" fill="#000"/>
<circle cx="808.8" cy="37.2" r="7" fill="#000"/>
<path d="M104.6,1275.3 L106.7,1274.04 L108.81,1272.78 L110.91,1271.52 L113.02,1270.26 L115.12,1269 L117.23,1267.74 L119.33,1266.48 L121.44,1265.21 L123.54,1263.94 L125.65,1262.67 L127.75,1261.39 L129.85,1260.12 L131.96,1258.84 L134.06,1257.55 L136.17,1256.27 L138.27,1254.98 L140.38,1253.69 L142.48,1252.39 L144.59,1251.1 L146.69,1249.81 L148.79,1248.51 L150.9,1247.22 L153,1245.92 L155.11,1244.63 L157.21,1243.34 L159.32,1242.05 L161.42,1240.76 L163.53,1239.47 L165.63,1238.18 L167.74,1236.9 L169.84,1235.62 L171.94,1234.35 L174.05,1233.08 L176.15,1231.81 L178.26,1230.55 L180.36,1229.3 L182.47,1228.05 L184.57,1226.8 L186.68,1225.57 L188.78,1224.34 L190.89,1223.11 L192.99,1221.9 L195.09,1220.69 L197.2,1219.49 L199.3,1218.3 L201.41,1217.12 L203.51,1215.94 L205.62,1214.78 L207.72,1213.62 L209.83,1212.48 L211.93,1211.34 L214.04,1210.21 L216.14,1209.09 L218.24,1207.98 L220.35,1206.87 L222.45,1205.77 L224.56,1204.68 L226.66,1203.6 L228.77,1202.53 L230.87,1201.46 L232.98,1200.4 L235.08,1199.35 L237.18,1198.3 L239.29,1197.26 L241.39,1196.23 L243.5,1195.2 L245.6,1194.18 L247.71,1193.17 L249.81,1192.16 L251.92,1191.16 L254.02,1190.16 L256.13,1189.17 L258.23,1188.18 L260.33,1187.21 L262.44,1186.23 L264.54,1185.26 L266.65,1184.3 L268.75,1183.34 L270.86,1182.38 L272.96,1181.43 L275.07,1180.48 L277.17,1179.54 L279.28,1178.6 L281.38,1177.67 L283.48,1176.74 L285.59,1175.81 L287.69,1174.89 L289.8,1173.97 L291.9,1173.06 L294.01,1172.15 L296.11,1171.24 L298.22,1170.34 L300.32,1169.44 L302.43,1168.55 L304.53,1167.66 L306.63,1166.77 L308.74,1165.89 L310.84,1165.02 L312.95,1164.15 L315.05,1163.28 L317.16,1162.42 L319.26,1161.56 L321.37,1160.71 L323.47,1159.86 L325.57,1159.02 L327.68,1158.18 L329.78,1157.35 L331.89,1156.52 L333.99,1155.69 L336.1,1154.87 L338.2,1154.06 L340.31,1153.25 L342.41,1152.45 L344.52,1151.65 L346.62,1150.86 L348.72,1150.07 L350.83,1149.29 L352.93,1148.51 L355.04,1147.74 L357.14,1146.97 L359.25,1146.21 L361.35,1145.45 L363.46,1144.7 L365.56,1143.96 L367.67,1143.22 L369.77,1142.48 L371.87,1141.75 L373.98,1141.03 L376.08,1140.32 L378.19,1139.6 L380.29,1138.9 L382.4,1138.2 L384.5,1137.51 L386.61,1136.82 L388.71,1136.14 L390.82,1135.46 L392.92,1134.8 L395.02,1134.13 L397.13,1133.48 L399.23,1132.83 L401.34,1132.19 L403.44,1131.55 L405.55,1130.92 L407.65,1130.3 L409.76,1129.68 L411.86,1129.07 L413.96,1128.47 L416.07,1127.87 L418.17,1127.28 L420.28,1126.7 L422.38,1126.13 L424.49,1125.56 L426.59,1125 L428.7,1124.45 L430.8,1123.9 L432.91,1123.37 L435.01,1122.84 L437.11,1122.31 L439.22,1121.8 L441.32,1121.29 L443.43,1120.8 L445.53,1120.3 L447.64,1119.82 L449.74,1119.35 L451.85,1118.88 L453.95,1118.42 L456.06,1117.97 L458.16,1117.53 L460.26,1117.1 L462.37,1116.67 L464.47,1116.26 L466.58,1115.85 L468.68,1115.45 L470.79,1115.06 L472.89,1114.68 L475,1114.3 L477.1,1113.94 L479.21,1113.59 L481.31,1113.24 L483.41,1112.9 L485.52,1112.58 L487.62,1112.26 L489.73,1111.94 L491.83,1111.64 L493.94,1111.34 L496.04,1111.04 L498.15,1110.76 L500.25,1110.48 L502.35,1110.2 L504.46,1109.93 L506.56,1109.66 L508.67,1109.39 L510.77,1109.13 L512.88,1108.87 L514.98,1108.61 L517.09,1108.36 L519.19,1108.1 L521.3,1107.85 L523.4,1107.6" fill="none" stroke="#ff0000" stroke-width="3.4"/>
<path d="M310.1,1291.2 L312.52,1288.65 L314.94,1286.11 L317.36,1283.55 L319.79,1281 L322.21,1278.44 L324.63,1275.88 L327.05,1273.3 L329.47,1270.72 L331.89,1268.14 L334.31,1265.54 L336.73,1262.94 L339.16,1260.33 L341.58,1257.73 L344,1255.13 L346.42,1252.53 L348.84,1249.93 L351.26,1247.35 L353.68,1244.77 L356.1,1242.21 L358.53,1239.66 L360.95,1237.14 L363.37,1234.63 L365.79,1232.14 L368.21,1229.68 L370.63,1227.24 L373.05,1224.84 L375.47,1222.46 L377.9,1220.12 L380.32,1217.81 L382.74,1215.54 L385.16,1213.31 L387.58,1211.12 L390,1208.96 L392.42,1206.83 L394.84,1204.74 L397.27,1202.68 L399.69,1200.66 L402.11,1198.67 L404.53,1196.7 L406.95,1194.77 L409.37,1192.87 L411.79,1191 L414.22,1189.15 L416.64,1187.33 L419.06,1185.54 L421.48,1183.78 L423.9,1182.04 L426.32,1180.32 L428.74,1178.63 L431.16,1176.96 L433.59,1175.32 L436.01,1173.69 L438.43,1172.09 L440.85,1170.5 L443.27,1168.94 L445.69,1167.39 L448.11,1165.87 L450.53,1164.36 L452.96,1162.87 L455.38,1161.41 L457.8,1159.96 L460.22,1158.52 L462.64,1157.11 L465.06,1155.72 L467.48,1154.34 L469.9,1152.99 L472.33,1151.65 L474.75,1150.33 L477.17,1149.02 L479.59,1147.74 L482.01,1146.47 L484.43,1145.22 L486.85,1143.99 L489.28,1142.77 L491.7,1141.57 L494.12,1140.39 L496.54,1139.23 L498.96,1138.08 L501.38,1136.95 L503.8,1135.84 L506.22,1134.74 L508.65,1133.66 L511.07,1132.6 L513.49,1131.55 L515.91,1130.52 L518.33,1129.5 L520.75,1128.5 L523.17,1127.51 L525.59,1126.54 L528.02,1125.59 L530.44,1124.65 L532.86,1123.73 L535.28,1122.82 L537.7,1121.92 L540.12,1121.04 L542.54,1120.17 L544.96,1119.32 L547.39,1118.48 L549.81,1117.65 L552.23,1116.84 L554.65,1116.04 L557.07,1115.25 L559.49,1114.47 L561.91,1113.71 L564.33,1112.96 L566.76,1112.22 L569.18,1111.49 L571.6,1110.77 L574.02,1110.06 L576.44,1109.37 L578.86,1108.68 L581.28,1108.01 L583.71,1107.34 L586.13,1106.69 L588.55,1106.04 L590.97,1105.4 L593.39,1104.78 L595.81,1104.16 L598.23,1103.55 L600.65,1102.95 L603.08,1102.36 L605.5,1101.78 L607.92,1101.2 L610.34,1100.63 L612.76,1100.07 L615.18,1099.52 L617.6,1098.97 L620.02,1098.43 L622.45,1097.9 L624.87,1097.37 L627.29,1096.85 L629.71,1096.34 L632.13,1095.83 L634.55,1095.33 L636.97,1094.84 L639.39,1094.35 L641.82,1093.87 L644.24,1093.39 L646.66,1092.92 L649.08,1092.46 L651.5,1092 L653.92,1091.55 L656.34,1091.1 L658.77,1090.66 L661.19,1090.23 L663.61,1089.8 L666.03,1089.38 L668.45,1088.96 L670.87,1088.55 L673.29,1088.14 L675.71,1087.74 L678.14,1087.34 L680.56,1086.95 L682.98,1086.57 L685.4,1086.19 L687.82,1085.81 L690.24,1085.44 L692.66,1085.08 L695.08,1084.72 L697.51,1084.36 L699.93,1084.02 L702.35,1083.67 L704.77,1083.33 L707.19,1083 L709.61,1082.66 L712.03,1082.34 L714.45,1082.02 L716.88,1081.7 L719.3,1081.39 L721.72,1081.08 L724.14,1080.78 L726.56,1080.48 L728.98,1080.18 L731.4,1079.89 L733.82,1079.61 L736.25,1079.33 L738.67,1079.05 L741.09,1078.77 L743.51,1078.5 L745.93,1078.24 L748.35,1077.98 L750.77,1077.72 L753.2,1077.46 L755.62,1077.21 L758.04,1076.96 L760.46,1076.72 L762.88,1076.48 L765.3,1076.24 L767.72,1076.01 L770.14,1075.78 L772.57,1075.56 L774.99,1075.33 L777.41,1075.11 L779.83,1074.9 L782.25,1074.69 L784.67,1074.48 L787.09,1074.27 L789.51,1074.07 L791.94,1073.87 L794.36,1073.67 L796.78,1073.48 L799.2,1073.29 L801.62,1073.1 L804.04,1072.92 L806.46,1072.73 L808.88,1072.56 L811.31,1072.38 L813.73,1072.21 L816.15,1072.04 L818.57,1071.87 L820.99,1071.7 L823.41,1071.54 L825.83,1071.38 L828.26,1071.22 L830.68,1071.07 L833.1,1070.92 L835.52,1070.77 L837.94,1070.62 L840.36,1070.48 L842.78,1070.33 L845.2,1070.19 L847.63,1070.05 L850.05,1069.92 L852.47,1069.79 L854.89,1069.65 L857.31,1069.52 L859.73,1069.4 L862.15,1069.27 L864.57,1069.15 L867,1069.03 L869.42,1068.91 L871.84,1068.79 L874.26,1068.67 L876.68,1068.56 L879.1,1068.45 L881.52,1068.34 L883.94,1068.23 L886.37,1068.12 L888.79,1068.01 L891.21,1067.91 L893.63,1067.81 L896.05,1067.7 L898.47,1067.6 L900.89,1067.5 L903.31,1067.4 L905.74,1067.3 L908.16,1067.2 L910.58,1067.1 L913,1067" fill="none" stroke="#ff0000" stroke-width="3.4"/>
<path d="M310.1,1291.06 L311.17,1289.37 L312.24,1287.67 L313.32,1285.98 L314.39,1284.3 L315.46,1282.62 L316.53,1280.95 L317.6,1279.28 L318.67,1277.63 L319.75,1275.98 L320.82,1274.35 L321.89,1272.73 L322.96,1271.12 L324.03,1269.53 L325.11,1267.94 L326.18,1266.37 L327.25,1264.81 L328.32,1263.26 L329.39,1261.72 L330.47,1260.19 L331.54,1258.67 L332.61,1257.17 L333.68,1255.67 L334.75,1254.19 L335.82,1252.72 L336.9,1251.25 L337.97,1249.8 L339.04,1248.36 L340.11,1246.93 L341.18,1245.51 L342.26,1244.1 L343.33,1242.7 L344.4,1241.3 L345.47,1239.92 L346.54,1238.55 L347.62,1237.19 L348.69,1235.84 L349.76,1234.49 L350.83,1233.16 L351.9,1231.84 L352.97,1230.53 L354.05,1229.22 L355.12,1227.93 L356.19,1226.65 L357.26,1225.38 L358.33,1224.12 L359.41,1222.86 L360.48,1221.62 L361.55,1220.4 L362.62,1219.18 L363.69,1217.97 L364.76,1216.77 L365.84,1215.58 L366.91,1214.41 L367.98,1213.24 L369.05,1212.09 L370.12,1210.95 L371.2,1209.81 L372.27,1208.69 L373.34,1207.58 L374.41,1206.49 L375.48,1205.4 L376.56,1204.33 L377.63,1203.27 L378.7,1202.21 L379.77,1201.18 L380.84,1200.15 L381.91,1199.13 L382.99,1198.13 L384.06,1197.13 L385.13,1196.14 L386.2,1195.17 L387.27,1194.2 L388.35,1193.24 L389.42,1192.29 L390.49,1191.34 L391.56,1190.41 L392.63,1189.48 L393.71,1188.56 L394.78,1187.64 L395.85,1186.73 L396.92,1185.83 L397.99,1184.93 L399.06,1184.04 L400.14,1183.15 L401.21,1182.27 L402.28,1181.4 L403.35,1180.52 L404.42,1179.66 L405.5,1178.79 L406.57,1177.94 L407.64,1177.08 L408.71,1176.23 L409.78,1175.39 L410.85,1174.55 L411.93,1173.71 L413,1172.88 L414.07,1172.05 L415.14,1171.23 L416.21,1170.41 L417.29,1169.6 L418.36,1168.79 L419.43,1167.98 L420.5,1167.18 L421.57,1166.38 L422.65,1165.59 L423.72,1164.8 L424.79,1164.01 L425.86,1163.23 L426.93,1162.46 L428,1161.68 L429.08,1160.92 L430.15,1160.15 L431.22,1159.4 L432.29,1158.64 L433.36,1157.89 L434.44,1157.15 L435.51,1156.41 L436.58,1155.67 L437.65,1154.94 L438.72,1154.22 L439.79,1153.5 L440.87,1152.78 L441.94,1152.07 L443.01,1151.36 L444.08,1150.66 L445.15,1149.97 L446.23,1149.28 L447.3,1148.59 L448.37,1147.91 L449.44,1147.23 L450.51,1146.55 L451.59,1145.88 L452.66,1145.21 L453.73,1144.55 L454.8,1143.89 L455.87,1143.24 L456.94,1142.59 L458.02,1141.94 L459.09,1141.29 L460.16,1140.65 L461.23,1140.01 L462.3,1139.38 L463.38,1138.75 L464.45,1138.12 L465.52,1137.5 L466.59,1136.88 L467.66,1136.26 L468.74,1135.65 L469.81,1135.04 L470.88,1134.43 L471.95,1133.83 L473.02,1133.23 L474.09,1132.63 L475.17,1132.04 L476.24,1131.45 L477.31,1130.87 L478.38,1130.28 L479.45,1129.71 L480.53,1129.13 L481.6,1128.56 L482.67,1127.99 L483.74,1127.43 L484.81,1126.87 L485.88,1126.31 L486.96,1125.75 L488.03,1125.2 L489.1,1124.65 L490.17,1124.11 L491.24,1123.56 L492.32,1123.02 L493.39,1122.48 L494.46,1121.94 L495.53,1121.41 L496.6,1120.88 L497.68,1120.34 L498.75,1119.81 L499.82,1119.29 L500.89,1118.76 L501.96,1118.23 L503.03,1117.7 L504.11,1117.18 L505.18,1116.65 L506.25,1116.12 L507.32,1115.6 L508.39,1115.07 L509.47,1114.54 L510.54,1114.01 L511.61,1113.48 L512.68,1112.95 L513.75,1112.42 L514.83,1111.89 L515.9,1111.36 L516.97,1110.82 L518.04,1110.29 L519.11,1109.75 L520.18,1109.22 L521.26,1108.68 L522.33,1108.15 L523.4,1107.61" fill="none" stroke="#ff0000" stroke-width="3.4" stroke-dasharray="10.7 4.8"/>
<circle cx="195.5" cy="1013.8" r="7" fill="#000"/>
<circle cx="310.6" cy="927.7" r="7" fill="#000"/>
<circle cx="523.8" cy="927.7" r="7" fill="#000"/>
<circle cx="808.4" cy="507.9" r="7" fill="#000"/>
<circle cx="310.1" cy="1291.2" r="6.8" fill="#000"/>
<circle cx="523.4" cy="1107.6" r="6.8" fill="#000"/>
<rect x="104.6" y="2.4" width="808.5" height="1331.1" fill="none" stroke="#000" stroke-width="4.4"/>
<line x1="104.6" y1="297.9" x2="913.1" y2="297.9" stroke="#000" stroke-width="4.4"/>
<line x1="104.6" y1="1037.6" x2="913.1" y2="1037.6" stroke="#000" stroke-width="4.4"/>
<line x1="99.3" y1="1032.6" x2="104.6" y2="1032.6" stroke="#000" stroke-width="3.4"/>
<line x1="99.3" y1="927.66" x2="104.6" y2="927.66" stroke="#000" stroke-width="3.4"/>
<line x1="99.3" y1="822.72" x2="104.6" y2="822.72" stroke="#000" stroke-width="3.4"/>
<line x1="99.3" y1="717.78" x2="104.6" y2="717.78" stroke="#000" stroke-width="3.4"/>
<line x1="99.3" y1="612.84" x2="104.6" y2="612.84" stroke="#000" stroke-width="3.4"/>
<line x1="99.3" y1="507.9" x2="104.6" y2="507.9" stroke="#000" stroke-width="3.4"/>
<line x1="99.3" y1="402.96" x2="104.6" y2="402.96" stroke="#000" stroke-width="3.4"/>
<line x1="99.3" y1="298.02" x2="104.6" y2="298.02" stroke="#000" stroke-width="3.4"/>
<line x1="99.3" y1="232.8" x2="104.6" y2="232.8" stroke="#000" stroke-width="3.4"/>
<line x1="99.3" y1="1268.4" x2="104.6" y2="1268.4" stroke="#000" stroke-width="3.4"/>
<line x1="99.3" y1="100.9" x2="104.6" y2="100.9" stroke="#000" stroke-width="3.4"/>
<line x1="99.3" y1="1136.3" x2="104.6" y2="1136.3" stroke="#000" stroke-width="3.4"/>
<line x1="306.55" y1="1333.5" x2="306.55" y2="1338.1" stroke="#000" stroke-width="3.6"/>
<line x1="711.1" y1="1333.5" x2="711.1" y2="1338.1" stroke="#000" stroke-width="3.6"/>
<text x="49.3" y="1042.9" font-family="Liberation Sans" font-size="30" fill="#000">0.0</text>
<text x="49.3" y="937.96" font-family="Liberation Sans" font-size="30" fill="#000">0.</text>
<use href="#one" transform="translate(74.32,937.96) scale(0.014648,-0.014648)" fill="#000"/>
<text x="49.3" y="833.02" font-family="Liberation Sans" font-size="30" fill="#000">0.2</text>
<text x="49.3" y="728.08" font-family="Liberation Sans" font-size="30" fill="#000">0.3</text>
<text x="49.3" y="623.14" font-family="Liberation Sans" font-size="30" fill="#000">0.4</text>
<text x="49.3" y="518.2" font-family="Liberation Sans" font-size="30" fill="#000">0.5</text>
<text x="49.3" y="413.26" font-family="Liberation Sans" font-size="30" fill="#000">0.6</text>
<text x="49.3" y="308.32" font-family="Liberation Sans" font-size="30" fill="#000">0.7</text>
<text x="49.3" y="243.1" font-family="Liberation Sans" font-size="30" fill="#000">0.6</text>
<text x="49.3" y="1278.7" font-family="Liberation Sans" font-size="30" fill="#000">0.6</text>
<text x="49.3" y="111.2" font-family="Liberation Sans" font-size="30" fill="#000">0.8</text>
<text x="49.3" y="1146.6" font-family="Liberation Sans" font-size="30" fill="#000">0.8</text>
<text x="286.2" y="1374.3" font-family="Liberation Sans" font-size="30" fill="#000">0.7</text>
<text x="690.75" y="1374.3" font-family="Liberation Sans" font-size="30" fill="#000">0.9</text>
<text x="126" y="55.3" font-family="Liberation Sans" font-size="42" font-weight="bold">b</text>
<text x="126.4" y="344.4" font-family="Liberation Sans" font-size="42" font-weight="bold">a</text>
<text x="126.2" y="1084" font-family="Liberation Sans" font-size="42" font-weight="bold">c</text>
<text x="508" y="1417.5" font-family="Liberation Serif" font-style="italic" font-size="36" text-anchor="middle">φ</text>
<g transform="translate(21.8,148.2) rotate(-90)"><text x="0" y="0" font-family="Liberation Sans" font-size="28.5" font-style="italic" text-anchor="middle"><tspan letter-spacing="1.3">j/j</tspan><tspan font-size="21.3" dy="9">max</tspan></text></g>
<g transform="translate(21.8,1184.2) rotate(-90)"><text x="0" y="0" font-family="Liberation Sans" font-size="28.5" font-style="italic" text-anchor="middle"><tspan letter-spacing="1.3">j/j</tspan><tspan font-size="21.3" dy="9">max</tspan></text></g>
<g transform="translate(21.8,667.3) rotate(-90)"><text x="0" y="0" font-family="Liberation Sans" font-size="29" font-style="italic" text-anchor="middle"><tspan>p</tspan><tspan font-size="21" font-style="normal" dy="7.7">3</tspan></text></g>
<text x="131.2" y="488" font-family="Liberation Sans" font-size="29" font-style="italic">p</text>
<text x="145.4" y="496.9" font-family="Liberation Sans" font-size="20" >3</text>
<text x="162.9" y="488" font-family="Liberation Sans" font-size="29" >=</text>
<text x="187.8" y="488" font-family="Liberation Sans" font-size="29" fill="#000">0.5</text>
<text x="132.6" y="906" font-family="Liberation Sans" font-size="29" font-style="italic">p</text>
<text x="146.8" y="914.9" font-family="Liberation Sans" font-size="20" >3</text>
<text x="164.3" y="906" font-family="Liberation Sans" font-size="29" >=</text>
<text x="189.2" y="906" font-family="Liberation Sans" font-size="29" fill="#000">0.</text>
<use href="#one" transform="translate(213.39,906) scale(0.014160,-0.014160)" fill="#000"/>
<text x="212.1" y="269" font-family="Liberation Sans" font-size="29" font-style="italic">p</text>
<text x="226.3" y="277.9" font-family="Liberation Sans" font-size="20" >3</text>
<text x="243.8" y="269" font-family="Liberation Sans" font-size="29" >=</text>
<text x="268.7" y="269" font-family="Liberation Sans" font-size="29" fill="#000">0.5</text>
<text x="214.1" y="1080" font-family="Liberation Sans" font-size="29" font-style="italic">p</text>
<text x="228.3" y="1088.9" font-family="Liberation Sans" font-size="20" >3</text>
<text x="245.8" y="1080" font-family="Liberation Sans" font-size="29" >=</text>
<text x="270.7" y="1080" font-family="Liberation Sans" font-size="29" fill="#000">0.</text>
<use href="#one" transform="translate(294.89,1080) scale(0.014160,-0.014160)" fill="#000"/>
<text x="816.2" y="471.3" font-family="Liberation Sans" font-size="30" font-style="italic">Q</text>
<text x="837.7" y="480.6" font-family="Liberation Sans" font-size="20" fill="#000">0.5</text>
<text x="543.2" y="221.2" font-family="Liberation Sans" font-size="30" font-style="italic">Q</text>
<text x="564.7" y="230.5" font-family="Liberation Sans" font-size="20" fill="#000">0.5</text>
<text x="278.2" y="894.6" font-family="Liberation Sans" font-size="30" font-style="italic">Q</text>
<text x="299.7" y="903.9" font-family="Liberation Sans" font-size="20" fill="#000">0.</text>
<use href="#one" transform="translate(316.38,903.9) scale(0.009766,-0.009766)" fill="#000"/>
<text x="303.5" y="879.6" font-family="Liberation Sans" font-size="21" font-style="italic">left</text>
<text x="512.3" y="978.8" font-family="Liberation Sans" font-size="30" font-style="italic">Q</text>
<text x="533.8" y="988.1" font-family="Liberation Sans" font-size="20" fill="#000">0.</text>
<use href="#one" transform="translate(550.48,988.1) scale(0.009766,-0.009766)" fill="#000"/>
<text x="537.6" y="963.8" font-family="Liberation Sans" font-size="21" font-style="italic">right</text>
<text x="541.9" y="1093.3" font-family="Liberation Sans" font-size="30" font-style="italic">Q</text>
<text x="563.4" y="1102.6" font-family="Liberation Sans" font-size="20" fill="#000">0.</text>
<use href="#one" transform="translate(580.08,1102.6) scale(0.009766,-0.009766)" fill="#000"/>
<text x="567.2" y="1078.3" font-family="Liberation Sans" font-size="21" font-style="italic">right</text>
<text x="258.2" y="1257.5" font-family="Liberation Sans" font-size="30" font-style="italic">Q</text>
<text x="279.7" y="1266.8" font-family="Liberation Sans" font-size="20" fill="#000">0.</text>
<use href="#one" transform="translate(296.38,1266.8) scale(0.009766,-0.009766)" fill="#000"/>
<text x="283.5" y="1242.5" font-family="Liberation Sans" font-size="21" font-style="italic">left</text>
<text x="182.2" y="999.3" font-family="Liberation Sans" font-size="30" font-style="italic">Q</text>
<text x="203.8" y="1000.3" font-family="Liberation Sans" font-size="21" font-style="italic">c</text>
<text transform="translate(275.1,778.6) rotate(-20)" font-family="Liberation Sans" font-size="29">Mono-stable</text>
<text transform="translate(324,969.8) rotate(-12.5)" font-family="Liberation Sans" font-size="28.5" fill="#fff">Hysteresis</text>
<text transform="translate(508.8,927) rotate(-27.5)" font-family="Liberation Sans" font-size="29" fill="#fff">Coexistence</text>
</svg></body></html>
